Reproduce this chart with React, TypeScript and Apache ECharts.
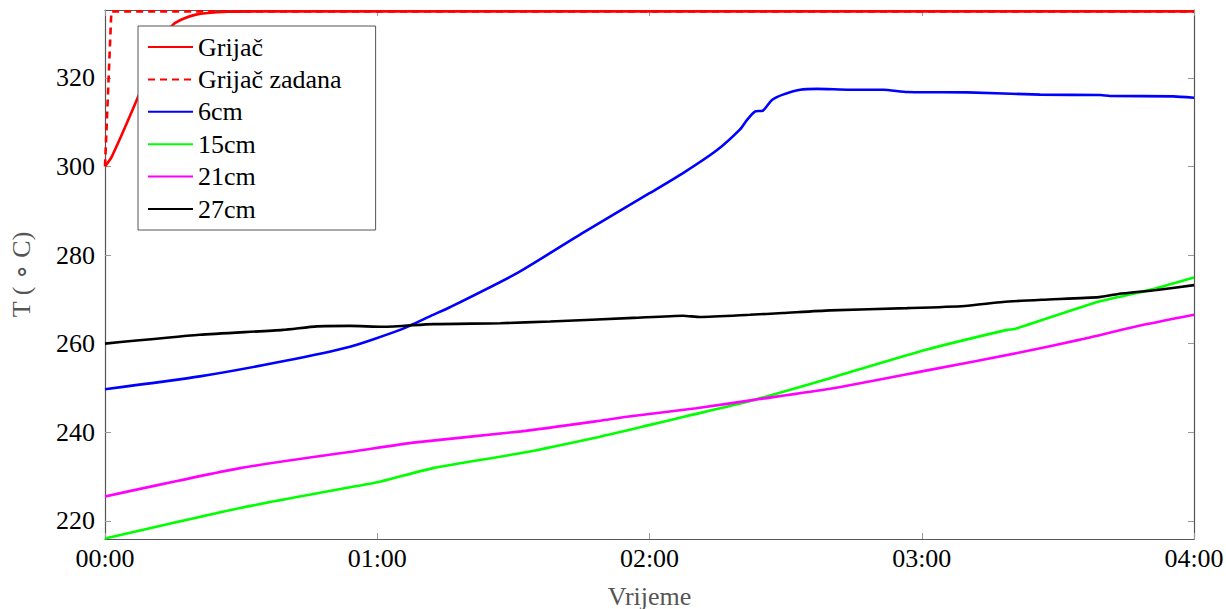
import { useEffect, useRef } from "react";
import * as echarts from "echarts";

// time in minutes since 00:00, temperature in °C
const heaterT = [0, 1.5, 7.3, 9.9, 12.1, 15.0, 19.8, 27.1, 38.6, 240];
const heaterV = [300, 302.2, 315.7, 322.5, 327, 332, 334.2, 334.9, 335, 335];

const setpointT = [0, 1.4, 240];
const setpointV = [300, 335, 335];

const cm6T = [0, 20.9, 39.2, 54.0, 65.0, 72.3, 76.0, 90.8, 105.3, 120.1, 127.4, 134.9, 139.9, 141.5, 143.3, 145.0, 147.0, 149.4, 153.2, 156.9, 164.2, 171.5, 176.8, 190.0, 206.1, 219.3, 221.5, 235.4, 240];
const cm6V = [249.7, 252.6, 256.0, 259.3, 263.1, 266.5, 268.2, 275.9, 285.0, 294.0, 298.5, 303.7, 308.3, 310.5, 312.4, 312.6, 315.0, 316.2, 317.3, 317.5, 317.3, 317.3, 316.8, 316.7, 316.2, 316.1, 315.9, 315.8, 315.5];

const cm15T = [0, 29.8, 53.1, 60.8, 72.3, 91.7, 109.1, 119.9, 127.6, 141.3, 159.8, 180.9, 198.8, 200.5, 219.1, 231.0, 240];
const cm15V = [216.0, 222.9, 227.4, 228.9, 231.9, 235.3, 239.0, 241.6, 243.5, 246.8, 252.2, 258.6, 263.1, 263.3, 269.5, 272.3, 274.9];

const cm21T = [0, 29.8, 56.9, 68.5, 91.7, 109.1, 115.0, 130.3, 143.0, 159.8, 180.9, 202.1, 214.9, 227.4, 240];
const cm21V = [225.5, 231.9, 236.0, 237.7, 240.2, 242.6, 243.5, 245.4, 247.3, 249.8, 253.9, 258.1, 260.9, 263.9, 266.5];

const cm27T = [0, 20.9, 39.2, 46.7, 54.0, 61.3, 72.3, 87.1, 98.1, 116.4, 127.4, 131.1, 142.1, 149.4, 159.8, 176.8, 189.5, 197.9, 206.5, 219.1, 223.3, 231.8, 240];
const cm27V = [260.0, 262.0, 263.1, 263.9, 264.0, 263.8, 264.4, 264.6, 265.0, 265.8, 266.3, 266.0, 266.5, 266.9, 267.5, 268.0, 268.5, 269.4, 269.9, 270.5, 271.2, 272.1, 273.2];

const yTicks = [220, 240, 260, 280, 300, 320];
const seriesNames = ["Grijač", "Grijač zadana", "6cm", "15cm", "21cm", "27cm"];

const zip = (t: number[], v: number[]) => t.map((x, i) => [x, v[i]]);
const fmt = (m: number) => {
  const h = Math.floor(m / 60);
  const mm = Math.round(m % 60);
  return String(h).padStart(2, "0") + ":" + String(mm).padStart(2, "0");
};

const FONT = "'Liberation Serif', 'Times New Roman', serif";

export default function App() {
  const ref = useRef<HTMLDivElement>(null);
  useEffect(() => {
    if (!ref.current) return;
    const chart = echarts.init(ref.current, null, { renderer: "svg" });
    const line = (name: string, data: number[][], color: string, dashed = false, smooth: number | boolean = false) => ({
      name,
      type: "line",
      data,
      showSymbol: false,
      symbol: "none",
      smooth,
      lineStyle: { color, width: 2.6, type: dashed ? [7, 5] : "solid" },
      itemStyle: { color },
    });
    const tickStyle = { show: true, inside: true, length: 6, lineStyle: { color: "#999", width: 1 } };
    const axisLine = { show: true, onZero: false, lineStyle: { color: "#555", width: 1.2 } };
    chart.setOption({
      animation: false,
      backgroundColor: "#fff",
      grid: { left: 105, right: 32, top: 10, bottom: 70, containLabel: false, outerBoundsMode: "none" },
      legend: {
        orient: "vertical",
        left: 138,
        top: 26,
        backgroundColor: "#fff",
        borderColor: "#555",
        borderWidth: 1,
        borderRadius: 0,
        padding: [8, 34, 8, 9],
        itemWidth: 45,
        itemHeight: 14,
        itemGap: 6.4,
        data: seriesNames,
        itemStyle: { opacity: 0 },
        lineStyle: { opacity: 1 },
        textStyle: { fontFamily: FONT, fontSize: 26, color: "#000" },
      },
      xAxis: [
        {
          type: "value",
          min: 0,
          max: 240,
          interval: 60,
          name: "Vrijeme",
          nameLocation: "middle",
          nameGap: 44,
          nameTextStyle: { fontFamily: FONT, fontSize: 26, color: "#555" },
          axisLine,
          axisTick: tickStyle,
          splitLine: { show: false },
          axisLabel: { fontFamily: FONT, fontSize: 26, color: "#000", margin: 6, formatter: (v: number) => fmt(v) },
        },
        {
          type: "value",
          position: "top",
          min: 0,
          max: 240,
          interval: 60,
          axisLine,
          axisTick: tickStyle,
          splitLine: { show: false },
          axisLabel: { show: false },
        },
      ],
      yAxis: [
        {
          type: "value",
          min: 215.9,
          max: 335.3,
          name: "T ( ∘ C)",
          nameLocation: "middle",
          nameGap: 71,
          nameRotate: 90,
          nameTextStyle: { fontFamily: FONT, fontSize: 26, color: "#555" },
          axisLine,
          axisTick: { ...tickStyle, customValues: yTicks },
          splitLine: { show: false },
          axisLabel: { fontFamily: FONT, fontSize: 26, color: "#000", margin: 10, customValues: yTicks },
        },
        {
          type: "value",
          position: "right",
          min: 215.9,
          max: 335.3,
          axisLine,
          axisTick: { ...tickStyle, customValues: yTicks },
          splitLine: { show: false },
          axisLabel: { show: false, customValues: yTicks },
        },
      ],
      series: [
        line(seriesNames[0], zip(heaterT, heaterV), "#ff0000", false, 0.25),
        line(seriesNames[1], zip(setpointT, setpointV), "#ff0000", true),
        line(seriesNames[2], zip(cm6T, cm6V), "#0000ff", false, 0.2),
        line(seriesNames[3], zip(cm15T, cm15V), "#00ff00", false, 0.2),
        line(seriesNames[4], zip(cm21T, cm21V), "#ff00ff", false, 0.2),
        line(seriesNames[5], zip(cm27T, cm27V), "#000000", false, 0.2),
      ],
    });
    return () => chart.dispose();
  }, []);
  return (
    <div
      ref={ref}
      style={{ position: "fixed", left: 0, top: 0, width: 1226, height: 609, background: "#fff" }}
    />
  );
}
